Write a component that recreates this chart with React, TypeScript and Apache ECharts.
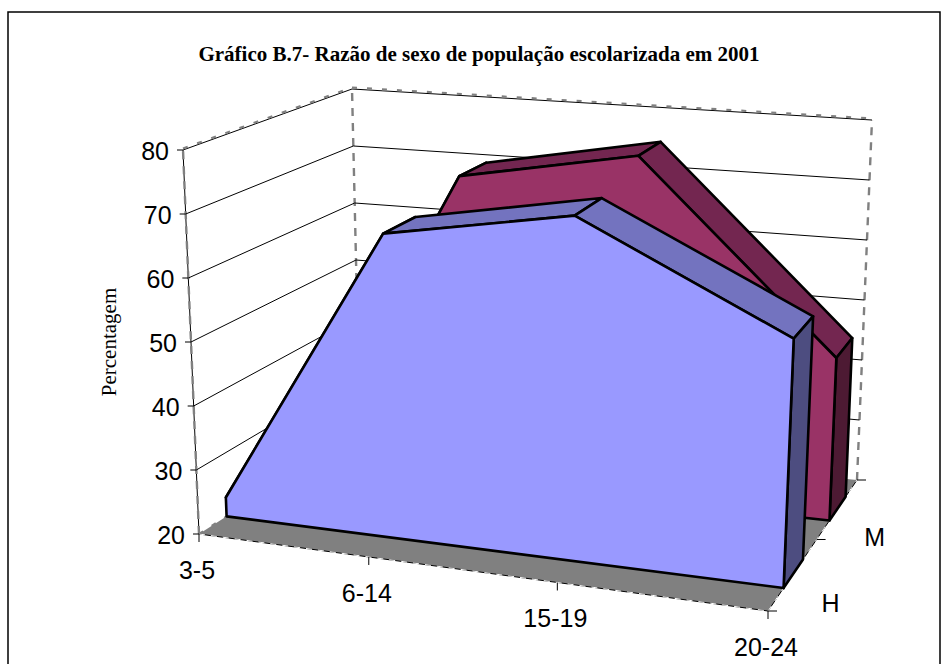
import React, { useEffect, useRef } from "react";
import * as echarts from "echarts";

const categories = ["3-5", "6-14", "15-19", "20-24"];
const depthLabels = ["H", "M"];
const valuesH = [23, 67.5, 73, 57.5];
const valuesM = [22, 70.5, 76, 46];
const yTicks = [20, 30, 40, 50, 60, 70, 80];
const titleText = "Gráfico B.7- Razão de sexo de população escolarizada em 2001";
const yName = "Percentagem";

const G = { left: 100, top: 100, width: 700, height: 400 };
type P = [number, number];
const FLOOR: P[] = [[199, 534], [768, 611], [857, 480], [360, 431]];
const CEIL: P[] = [[183, 150], [784, 204], [872, 120], [352, 89]];

function homography(q: P[]) {
  const [[x0, y0], [x1, y1], [x2, y2], [x3, y3]] = q;
  const dx1 = x1 - x2, dx2 = x3 - x2, dx3 = x0 - x1 + x2 - x3;
  const dy1 = y1 - y2, dy2 = y3 - y2, dy3 = y0 - y1 + y2 - y3;
  const den = dx1 * dy2 - dx2 * dy1;
  const g = (dx3 * dy2 - dx2 * dy3) / den;
  const h = (dx1 * dy3 - dx3 * dy1) / den;
  const a = x1 - x0 + g * x1, b = x3 - x0 + h * x3;
  const d = y1 - y0 + g * y1, e = y3 - y0 + h * y3;
  return (u: number, w: number): P => {
    const z = g * u + h * w + 1;
    return [(a * u + b * w + x0) / z, (d * u + e * w + y0) / z];
  };
}
const floorAt = homography(FLOOR);
const ceilAt = homography(CEIL);

// maps a pixel of the hidden cartesian grid, plus a depth, into the 3D box
function project(c: number[], depth: number): P {
  const u = (c[0] - G.left) / G.width;
  const v = (G.top + G.height - c[1]) / G.height;
  const f = floorAt(u, depth);
  const t = ceilAt(u, depth);
  return [f[0] + (t[0] - f[0]) * v, f[1] + (t[1] - f[1]) * v];
}

const line = (a: P, b: P, style: any) => ({
  type: "line",
  shape: { x1: a[0], y1: a[1], x2: b[0], y2: b[1] },
  style: { fill: null, ...style },
});
const poly = (points: P[], fill: string, lineWidth = 2.6) => ({
  type: "polygon",
  shape: { points },
  style: { fill, stroke: "#000", lineWidth, lineJoin: "round" },
});
const label = (text: string, x: number, y: number, align: string, size = 25) => ({
  type: "text",
  x,
  y,
  style: {
    text,
    fill: "#000",
    font: `${size}px "Liberation Sans", Arial, sans-serif`,
    align,
    verticalAlign: "middle",
  },
});

function areaSeries(name: string, values: number[], d0: number, d1: number, front: string, top: string, side: string, z: number) {
  return {
    type: "custom",
    name,
    z,
    clip: false,
    silent: true,
    data: values.map((v, i) => [i, v]),
    encode: { x: 0, y: 1 },
    renderItem: (params: any, api: any) => {
      const i = params.dataIndex;
      const here = api.coord([i, values[i]]);
      const children: any[] = [];
      if (i < values.length - 1) {
        const next = api.coord([i + 1, values[i + 1]]);
        children.push(poly([project(here, d0), project(here, d1), project(next, d1), project(next, d0)], top));
      } else {
        const base = api.coord([i, yTicks[0]]);
        children.push(poly([project(here, d0), project(here, d1), project(base, d1), project(base, d0)], side));
        const pts: P[] = values.map((v, k) => project(api.coord([k, v]), d0));
        pts.push(project(base, d0));
        pts.push(project(api.coord([0, yTicks[0]]), d0));
        children.push(poly(pts, front));
      }
      return { type: "group", children };
    },
  };
}

export default function App() {
  const ref = useRef<HTMLDivElement>(null);
  useEffect(() => {
    document.body.style.margin = "0";
    const chart = echarts.init(ref.current!, undefined, { renderer: "svg" });
    const thin = { stroke: "#000", lineWidth: 1 };
    const grayTop = { stroke: "#808080", lineWidth: 2.2, lineDash: [5, 10] };
    const grayV = { stroke: "#808080", lineWidth: 2.4, lineDash: [8, 7] };
    chart.setOption({
      animation: false,
      backgroundColor: "#fff",
      title: {
        text: titleText,
        left: 474,
        top: 38,
        textAlign: "center",
        textStyle: { fontFamily: '"Liberation Serif", serif', fontWeight: "bold", fontSize: 21, color: "#000" },
      },
      grid: { ...G, show: false },
      xAxis: { type: "category", data: categories, boundaryGap: false, show: false },
      yAxis: { type: "value", min: yTicks[0], max: yTicks[yTicks.length - 1], interval: 10, show: false },
      graphic: [
        { type: "rect", shape: { x: 8, y: 12, width: 932, height: 700 }, style: { fill: "none", stroke: "#000", lineWidth: 1.5 } },
        {
          type: "text",
          x: 109,
          y: 342,
          rotation: Math.PI / 2,
          style: { text: yName, fill: "#000", font: '21px "Liberation Serif", serif', align: "center", verticalAlign: "middle" },
        },
      ],
      series: [
        {
          type: "custom",
          name: "walls",
          z: 1,
          clip: false,
          silent: true,
          data: yTicks.map((t) => [0, t]),
          encode: { x: 0, y: 1 },
          renderItem: (params: any, api: any) => {
            const t = api.value(1);
            const left = api.coord([0, t]);
            const right = api.coord([categories.length - 1, t]);
            const fl = project(left, 0), bl = project(left, 1), br = project(right, 1);
            const children: any[] = [];
            if (params.dataIndex === 0) {
              const fr = project(right, 0);
              const topL = api.coord([0, yTicks[yTicks.length - 1]]);
              const topR = api.coord([categories.length - 1, yTicks[yTicks.length - 1]]);
              children.push(line(bl, project(topL, 1), grayV));
              children.push(line(br, project(topR, 1), grayV));
              children.push(line(fl, bl, grayTop));
              children.push({ type: "polygon", shape: { points: [fl, fr, br, bl] }, style: { fill: "#808080" } });
              children.push(line(fl, fr, { stroke: "#000", lineWidth: 1 }));
              children.push(line(fl, fr, { stroke: "#fff", lineWidth: 1, lineDash: [6, 6] }));
              children.push(line(fr, br, { stroke: "#000", lineWidth: 1 }));
              children.push(line(fr, br, { stroke: "#fff", lineWidth: 1, lineDash: [6, 6] }));
              children.push(line(fl, project(topL, 0), thin));
              children.push(line(fl, project(topL, 0), grayV));
            } else {
              children.push(line(fl, bl, thin));
              children.push(line(bl, br, thin));
              if (t === yTicks[yTicks.length - 1]) {
                children.push(line([fl[0], fl[1] - 1.5], [bl[0], bl[1] - 1.5], grayTop));
                children.push(line([bl[0], bl[1] - 1.5], [br[0], br[1] - 1.5], grayTop));
              }
            }
            children.push(line([fl[0] - 6, fl[1]], fl, thin));
            children.push(label(String(t), fl[0] - 14, fl[1] + 1, "right"));
            return { type: "group", children };
          },
        },
        areaSeries("M", valuesM, 0.65, 0.85, "#993366", "#732650", "#4D1A33", 2),
        areaSeries("H", valuesH, 0.15, 0.35, "#9999FF", "#7373BF", "#4D4D80", 3),
        {
          type: "custom",
          name: "categories",
          z: 4,
          clip: false,
          silent: true,
          data: categories.map((_, i) => [i, yTicks[0]]),
          encode: { x: 0, y: 1 },
          renderItem: (params: any, api: any) => {
            const p = project(api.coord([params.dataIndex, yTicks[0]]), 0);
            return {
              type: "group",
              children: [
                line(p, [p[0], p[1] + 8], thin),
                label(categories[params.dataIndex], p[0] - 2, p[1] + 36, "center"),
              ],
            };
          },
        },
        {
          type: "custom",
          name: "depth",
          z: 4,
          clip: false,
          silent: true,
          data: [[categories.length - 1, yTicks[0]], [categories.length - 1, yTicks[0]], [categories.length - 1, yTicks[0]]],
          encode: { x: 0, y: 1 },
          renderItem: (params: any, api: any) => {
            const i = params.dataIndex;
            const c = api.coord([categories.length - 1, yTicks[0]]);
            const p = project(c, i / depthLabels.length);
            const children: any[] = [line(p, [p[0] + 9, p[1]], thin)];
            if (i < depthLabels.length) {
              const m = project(c, (i + 0.5) / depthLabels.length);
              children.push(label(depthLabels[i], m[0] + 37, m[1] + 29, "center"));
            }
            return { type: "group", children };
          },
        },
      ],
    });
    return () => chart.dispose();
  }, []);
  return <div ref={ref} style={{ width: 949, height: 664 }} />;
}
